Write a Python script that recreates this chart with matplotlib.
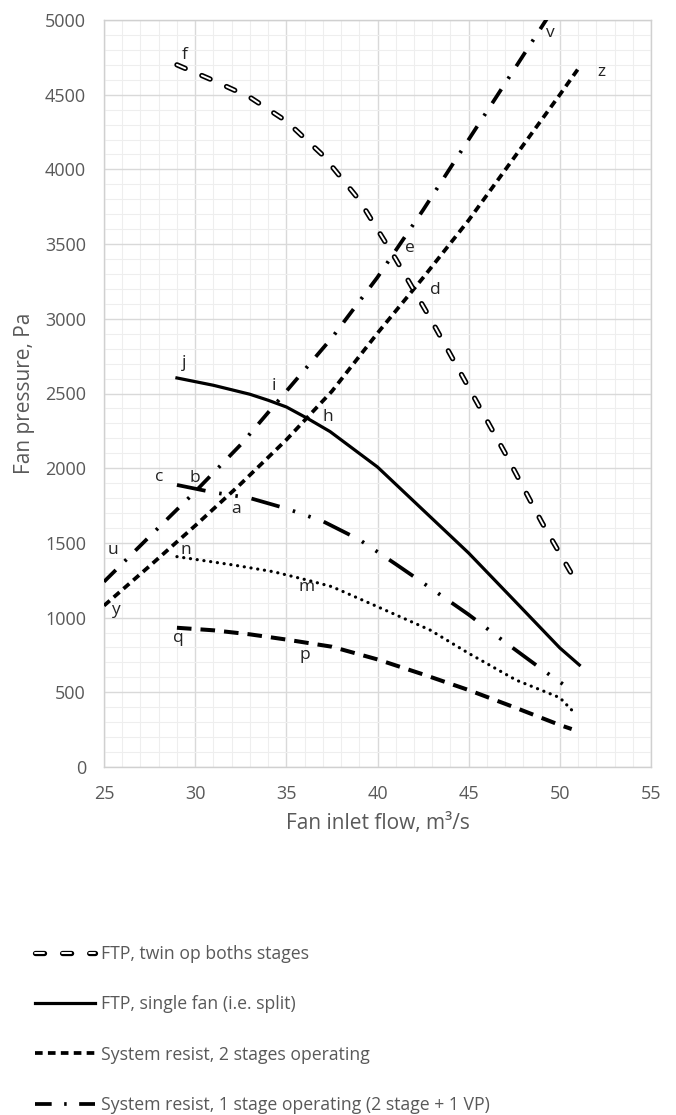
import matplotlib
matplotlib.use("Agg")
import matplotlib.pyplot as plt
from matplotlib.ticker import MultipleLocator

plt.rcParams['font.family'] = ['Open Sans', 'DejaVu Sans']
plt.rcParams['lines.scale_dashes'] = False

GREY = '#595959'

# FTP, twin op both stages (hollow dashes)
twin_x = [29, 31, 33, 35, 37, 39, 41, 43, 45, 47, 49, 50.8]
twin_y = [4700, 4595, 4483, 4323, 4095, 3795, 3400, 2980, 2540, 2100, 1640, 1260]

# FTP, single fan (solid)
single_x = [29, 31, 33, 34, 35, 36.15, 37.4, 40, 42.5, 45, 47.5, 50, 51.07]
single_y = [2604, 2555, 2495, 2455, 2410, 2334, 2245, 2008, 1720, 1432, 1115, 797, 683]

# System resist, 2 stages operating (short dashes)
sys2_x = [25, 27.5, 30, 32.5, 35, 37.5, 40, 42.5, 45, 47.5, 50, 51]
sys2_y = [1080, 1345, 1615, 1895, 2190, 2515, 2904, 3275, 3660, 4080, 4500, 4672]

# System resist, 1 stage operating (dash dot)
sys1_x = [25, 27.5, 30, 32.5, 35, 37.5, 40, 42.5, 45, 47.5, 49.3]
sys1_y = [1240, 1543, 1843, 2158, 2515, 2873, 3278, 3728, 4200, 4670, 5010]

# dash-dot-dot curve (c - b - a)
ddd_x = [29, 31, 33, 35, 37, 39, 41, 43, 45, 47, 49, 50.4]
ddd_y = [1888, 1838, 1800, 1730, 1645, 1522, 1358, 1190, 1020, 835, 655, 535]

# dotted curve (n - m)
dot_x = [29, 32.1, 34.3, 36.12, 37.5, 40, 42.88, 45, 47.6, 50, 50.74]
dot_y = [1408, 1352, 1307, 1252, 1207, 1073, 917, 761, 582, 464, 370]

# long dashed curve (q - p)
ld_x = [29, 31, 33, 35, 37.5, 40, 42.5, 45, 47.5, 50, 50.65]
ld_y = [932, 915, 888, 853, 805, 720, 620, 515, 400, 281, 254]

# point letters
letters = ['f', 'v', 'z', 'e', 'd', 'j', 'i', 'h', 'c', 'b', 'a', 'u', 'n', 'm', 'y', 'q', 'p']
letter_x = [29.44, 49.47, 52.3, 41.75, 43.16, 29.41, 34.3, 37.3, 28.03, 29.96, 32.24, 25.51, 29.5, 36.12, 25.6, 29.1, 36.03]
letter_y = [4766, 4911, 4654, 3472, 3193, 2702, 2550, 2340, 1939, 1932, 1724, 1452, 1452, 1207, 1051, 866, 750]

legend_labels = ['FTP, twin op boths stages',
                 'FTP, single fan (i.e. split)',
                 'System resist, 2 stages operating',
                 'System resist, 1 stage operating (2 stage + 1 VP)']

fig = plt.figure(figsize=(6.76, 11.15), dpi=100)
ax = fig.add_axes([104 / 676, 1 - 767 / 1115, (651 - 104) / 676, (767 - 20) / 1115])

twin_dash = (6.5, 13)
l_twin_o, = ax.plot(twin_x, twin_y, color='black', lw=3.8, dashes=twin_dash,
                    solid_capstyle='round', dash_capstyle='round', zorder=3)
l_twin_i, = ax.plot(twin_x, twin_y, color='white', lw=1.4, dashes=twin_dash,
                    solid_capstyle='round', dash_capstyle='round', zorder=4)
l_single, = ax.plot(single_x, single_y, color='black', lw=2.3, zorder=3)
l_sys2, = ax.plot(sys2_x, sys2_y, color='black', lw=2.7, dashes=(5.5, 3.8),
                  dash_capstyle='butt', zorder=3)
l_sys1, = ax.plot(sys1_x, sys1_y, color='black', lw=2.7, dashes=(12, 9, 1.8, 9),
                  dash_capstyle='butt', zorder=3)
ax.plot(ddd_x, ddd_y, color='black', lw=2.7, dashes=(21, 10, 1.8, 10, 1.8, 10),
        dash_capstyle='butt', zorder=3)
ax.plot(dot_x, dot_y, color='black', lw=2.3, dashes=(0.1, 4.8),
        dash_capstyle='round', zorder=3)
ax.plot(ld_x, ld_y, color='black', lw=2.9, dashes=(10.5, 6.5),
        dash_capstyle='butt', zorder=3)

for s, x, y in zip(letters, letter_x, letter_y):
    ax.text(x, y, s, fontsize=12.5, color='#222222', ha='center', va='center', zorder=5)

ax.set_xlim(25, 55)
ax.set_ylim(0, 5000)
ax.xaxis.set_major_locator(MultipleLocator(5))
ax.xaxis.set_minor_locator(MultipleLocator(1))
ax.yaxis.set_major_locator(MultipleLocator(500))
ax.yaxis.set_minor_locator(MultipleLocator(100))
ax.grid(which='major', color='#d9d9d9', lw=1.0, zorder=0)
ax.grid(which='minor', color='#eeeeee', lw=0.8, zorder=0)
ax.set_axisbelow(True)
for sp in ax.spines.values():
    sp.set_color('#d0d0d0')
    sp.set_linewidth(1.0)
ax.tick_params(which='both', length=0, labelsize=13, labelcolor=GREY)
ax.tick_params(axis='y', pad=13)
ax.tick_params(axis='x', pad=13)
ax.set_xlabel('Fan inlet flow, m³/s', fontsize=15, color=GREY, labelpad=7)
ax.set_ylabel('Fan pressure, Pa', fontsize=15, color=GREY, labelpad=7)

handles = [(l_twin_o, l_twin_i), l_single, l_sys2, l_sys1]
fig.legend(handles, legend_labels, loc='upper left', bbox_to_anchor=(35 / 676, 1 - 945 / 1115),
           frameon=False, fontsize=12.7, labelcolor=GREY, handlelength=3.4,
           handletextpad=0.35, labelspacing=1.83, borderpad=0, borderaxespad=0)

fig.savefig('out.png', dpi=100)
